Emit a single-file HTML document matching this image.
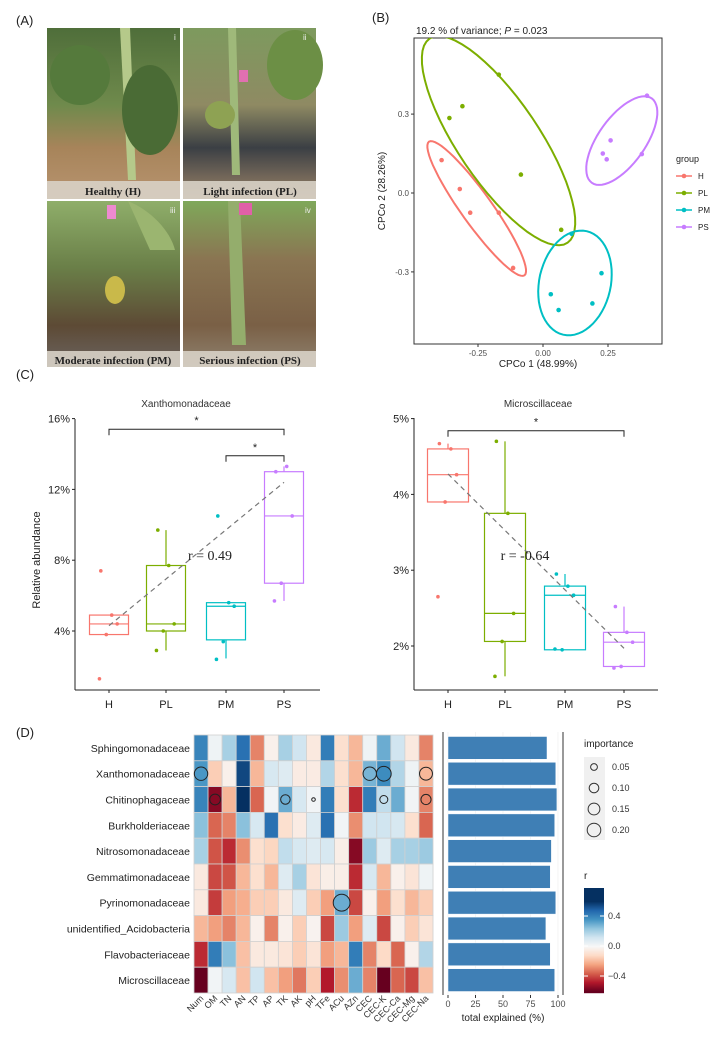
<!DOCTYPE html>
<html><head><meta charset="utf-8">
<style>
html,body{margin:0;padding:0;background:#fff;}
svg{display:block;font-family:"Liberation Sans",Arial,sans-serif;}
</style></head>
<body>
<svg id="fig" width="715" height="1037" viewBox="0 0 715 1037" xmlns="http://www.w3.org/2000/svg">
<defs>
<linearGradient id="g1" x1="0" y1="0" x2="0" y2="1"><stop offset="0" stop-color="#4f6e3a"/><stop offset="0.45" stop-color="#6f8a4c"/><stop offset="0.7" stop-color="#a7845a"/><stop offset="1" stop-color="#b89470"/></linearGradient>
<linearGradient id="g2" x1="0" y1="0" x2="0" y2="1"><stop offset="0" stop-color="#7d9a5e"/><stop offset="0.45" stop-color="#8f8a63"/><stop offset="0.7" stop-color="#3b3f44"/><stop offset="1" stop-color="#9c8468"/></linearGradient>
<linearGradient id="g3" x1="0" y1="0" x2="0" y2="1"><stop offset="0" stop-color="#8fae6a"/><stop offset="0.4" stop-color="#6a7f48"/><stop offset="0.75" stop-color="#5d4a35"/><stop offset="1" stop-color="#6b6460"/></linearGradient>
<linearGradient id="g4" x1="0" y1="0" x2="0" y2="1"><stop offset="0" stop-color="#7fa85a"/><stop offset="0.35" stop-color="#8a7552"/><stop offset="0.75" stop-color="#7a6046"/><stop offset="1" stop-color="#8f8270"/></linearGradient>
<clipPath id="clipB"><rect x="414" y="38" width="248" height="306"/></clipPath>
</defs>

<!-- Panel A -->
<g>
<text x="16" y="25" font-size="13" fill="#222">(A)</text>
<g>
<rect x="47" y="28" width="133" height="171" fill="url(#g1)"/>
<path d="M120 28 L128 180 L136 180 L130 28Z" fill="#b5c98a"/>
<ellipse cx="80" cy="75" rx="30" ry="30" fill="#557a3c"/>
<ellipse cx="150" cy="110" rx="28" ry="45" fill="#4a6b35"/>
<rect x="47" y="181" width="133" height="18" fill="#d8d2c6" opacity="0.9"/>
<text x="113" y="195" text-anchor="middle" font-family="Liberation Serif,serif" font-weight="bold" font-size="11" fill="#222">Healthy (H)</text>
<text x="174" y="40" font-size="8" fill="#eee">i</text>
</g>
<g>
<rect x="183" y="28" width="133" height="171" fill="url(#g2)"/>
<path d="M228 28 L232 175 L240 175 L236 28Z" fill="#9fb97a"/>
<ellipse cx="295" cy="65" rx="28" ry="35" fill="#6c8f45"/>
<ellipse cx="220" cy="115" rx="15" ry="14" fill="#8ea253"/>
<rect x="239" y="70" width="9" height="12" fill="#e070b0"/>
<rect x="183" y="181" width="133" height="18" fill="#d8d2c6" opacity="0.9"/>
<text x="250" y="195" text-anchor="middle" font-family="Liberation Serif,serif" font-weight="bold" font-size="11" fill="#222">Light infection (PL)</text>
<text x="303" y="40" font-size="8" fill="#eee">ii</text>
</g>
<g>
<rect x="47" y="201" width="133" height="166" fill="url(#g3)"/>
<path d="M128 201 C150 210 170 230 175 250 L150 250 Z" fill="#9bb570"/>
<rect x="107" y="205" width="9" height="14" fill="#ee8ad0"/>
<ellipse cx="115" cy="290" rx="10" ry="14" fill="#c9b94a"/>
<rect x="47" y="351" width="133" height="16" fill="#d8d2c6" opacity="0.9"/>
<text x="113" y="364" text-anchor="middle" font-family="Liberation Serif,serif" font-weight="bold" font-size="11" fill="#222">Moderate infection (PM)</text>
<text x="170" y="213" font-size="8" fill="#eee">iii</text>
</g>
<g>
<rect x="183" y="201" width="133" height="166" fill="url(#g4)"/>
<path d="M228 201 L232 345 L246 345 L240 201Z" fill="#94ad6c"/>
<rect x="239" y="203" width="13" height="12" fill="#e060a8"/>
<rect x="183" y="351" width="133" height="16" fill="#d8d2c6" opacity="0.9"/>
<text x="250" y="364" text-anchor="middle" font-family="Liberation Serif,serif" font-weight="bold" font-size="11" fill="#222">Serious infection (PS)</text>
<text x="305" y="213" font-size="8" fill="#eee">iv</text>
</g>
</g>

<text x="372" y="22" font-size="13" fill="#222">(B)</text>
<g id="pb"></g>
<text x="16" y="379" font-size="13" fill="#222">(C)</text>
<g id="pc1"></g>
<g id="pc2"></g>
<text x="16" y="737" font-size="13" fill="#222">(D)</text>
<g id="pd"></g>
</svg>

<script>
const NS="http://www.w3.org/2000/svg";
function mk(parent,tag,attrs,text){const e=document.createElementNS(NS,tag);for(const k in attrs)e.setAttribute(k,attrs[k]);if(text!==undefined)e.textContent=text;parent.appendChild(e);return e;}

/* ---------- Panel B data ---------- */
const groups=["H","PL","PM","PS"];
const groupColors=["#F8766D","#7CAE00","#00BFC4","#C77CFF"];
const pcoaX=[[-0.39,-0.32,-0.28,-0.17,-0.115],[-0.36,-0.31,-0.17,-0.085,0.07],[0.11,0.225,0.03,0.06,0.19],[0.40,0.26,0.23,0.245,0.38]];
const pcoaY=[[0.125,0.015,-0.075,-0.075,-0.285],[0.285,0.33,0.45,0.07,-0.14],[-0.155,-0.305,-0.385,-0.445,-0.42],[0.37,0.20,0.15,0.128,0.148]];
const pcoaXTicks=[-0.25,0,0.25];const pcoaXTickLabels=["-0.25","0.00","0.25"];
const pcoaYTicks=[0.3,0,-0.3];const pcoaYTickLabels=["0.3","0.0","-0.3"];

/* ---------- Panel C data ---------- */
const cats=["H","PL","PM","PS"];
const xanMin=[3.8,2.9,2.45,5.7],xanQ1=[3.8,4.0,3.5,6.7],xanMed=[4.4,4.4,5.4,10.5],xanQ3=[4.9,7.7,5.6,13.0],xanMax=[4.9,9.7,5.6,13.3];
const xanPts=[[7.4,4.9,4.4,3.8,1.3],[9.7,7.7,4.4,4.0,2.9],[10.5,5.6,5.4,3.4,2.4],[13.0,13.3,10.5,6.7,5.7]];
const xanTrend=[4.3,12.4];
const xanTicks=[4,8,12,16];const xanTickLabels=["4%","8%","12%","16%"];
const micMin=[3.9,1.6,1.95,1.73],micQ1=[3.9,2.06,1.95,1.73],micMed=[4.26,2.43,2.67,2.05],micQ3=[4.6,3.75,2.79,2.18],micMax=[4.67,4.7,2.95,2.52];
const micPts=[[4.67,4.6,4.26,3.9,2.65],[4.7,3.75,2.43,2.06,1.6],[2.95,2.79,2.67,1.95,1.96],[2.52,2.18,2.05,1.73,1.71]];
const micTrend=[4.27,1.97];
const micTicks=[2,3,4,5];const micTickLabels=["2%","3%","4%","5%"];

/* ---------- Panel D data ---------- */
const taxa=["Sphingomonadaceae","Xanthomonadaceae","Chitinophagaceae","Burkholderiaceae","Nitrosomonadaceae","Gemmatimonadaceae","Pyrinomonadaceae","unidentified_Acidobacteria","Flavobacteriaceae","Microscillaceae"];
const factors=["Num","OM","TN","AN","TP","AP","TK","AK","pH","TFe","ACu","AZn","CEC","CEC-K","CEC-Ca","CEC-Mg","CEC-Na"];
const corrR=[
[0.4,0.03,0.2,0.45,-0.3,-0.03,0.2,0.12,-0.06,0.42,-0.1,-0.2,0.03,0.3,0.12,-0.06,-0.3],
[0.35,-0.15,-0.03,0.55,-0.2,0.1,0.08,-0.05,-0.05,0.18,-0.1,-0.2,0.28,0.38,0.18,0.03,-0.2],
[0.4,-0.55,-0.2,0.6,-0.35,0.02,0.3,0.1,0.02,0.42,-0.1,-0.45,0.42,0.15,0.3,0.02,-0.3],
[0.25,-0.35,-0.3,0.25,0.1,0.45,-0.1,-0.05,0.08,0.45,0.02,-0.28,0.12,0.12,0.1,-0.1,-0.35],
[0.2,-0.38,-0.45,-0.28,-0.1,-0.13,0.15,0.1,0.08,0.1,-0.04,-0.55,0.22,0.08,0.2,0.2,0.22],
[-0.06,-0.4,-0.38,-0.2,-0.1,-0.2,0.08,0.2,-0.08,-0.04,-0.04,-0.45,0.1,-0.2,-0.03,-0.08,0.03],
[-0.06,-0.42,-0.25,-0.22,-0.15,-0.15,-0.06,0.08,-0.15,-0.25,0.3,-0.4,-0.03,-0.25,-0.1,-0.2,-0.15],
[-0.2,-0.25,-0.3,-0.2,-0.03,-0.3,-0.03,-0.15,-0.02,-0.4,0.22,-0.25,0.08,-0.4,-0.03,-0.15,-0.08],
[-0.45,0.42,0.25,-0.18,-0.06,-0.06,-0.08,-0.15,-0.08,-0.25,-0.2,0.42,-0.3,-0.12,-0.35,-0.03,0.18],
[-0.62,0.02,0.1,-0.18,0.12,-0.18,-0.25,-0.32,-0.15,-0.48,-0.28,0.3,-0.3,-0.62,-0.35,-0.4,-0.18]];
const impRow=[1,1,1,1,2,2,2,2,2,6];
const impCol=[0,12,13,16,1,6,8,13,16,10];
const impVal=[0.14,0.14,0.17,0.13,0.09,0.07,0.01,0.05,0.08,0.22];
const explained=[90,98,99,97,94,93,98,89,93,97];
const explTicks=[0,25,50,75,100];
const impLegendVals=[0.05,0.10,0.15,0.20];
const rLegendTicks=[0.4,0,-0.4];const rLegendLabels=["0.4","0.0","\u22120.4"];

/* ---------- Panel B ---------- */
(function(){
const g=document.getElementById("pb");
const L=414,R=662,T=38,B=344;
const sx=v=>543+v*260, sy=v=>193-v*263;
mk(g,"text",{x:416,y:34,"font-size":"10",fill:"#222"}).innerHTML='19.2 % of variance; <tspan font-style="italic">P</tspan> = 0.023';
const box=mk(g,"rect",{x:L,y:T,width:R-L,height:B-T,fill:"#fff",stroke:"#333","stroke-width":"1"});

pcoaYTicks.forEach((t,i)=>{mk(g,"line",{x1:L-3,x2:L,y1:sy(t),y2:sy(t),stroke:"#333"});
 const tx=mk(g,"text",{x:L-5,y:sy(t)+3,"text-anchor":"end","font-size":"8",fill:"#4d4d4d"},pcoaYTickLabels[i]);
 });
pcoaXTicks.forEach((t,i)=>{mk(g,"line",{x1:sx(t),x2:sx(t),y1:B,y2:B+3,stroke:"#333"});
 const tx=mk(g,"text",{x:sx(t),y:B+12,"text-anchor":"middle","font-size":"8",fill:"#4d4d4d"},pcoaXTickLabels[i]);
 });
const xl=mk(g,"text",{x:538,y:367,"text-anchor":"middle","font-size":"10",fill:"#222"},"CPCo 1 (48.99%)");

const yl=mk(g,"text",{x:0,y:0,"text-anchor":"middle","font-size":"10",fill:"#222",transform:"translate(385,191) rotate(-90)"},"CPCo 2 (28.26%)");

const clipG=mk(g,"g",{"clip-path":"url(#clipB)"});
groups.forEach((gr,k)=>{
 const xs=pcoaX[k],ys=pcoaY[k],n=xs.length;
 const mx=xs.reduce((a,b)=>a+b)/n,my=ys.reduce((a,b)=>a+b)/n;
 let cxx=0,cyy=0,cxy=0;for(let i=0;i<n;i++){cxx+=(xs[i]-mx)**2;cyy+=(ys[i]-my)**2;cxy+=(xs[i]-mx)*(ys[i]-my);}
 cxx/=n-1;cyy/=n-1;cxy/=n-1;
 const tr=cxx+cyy,det=cxx*cyy-cxy*cxy,d=Math.sqrt(Math.max(tr*tr/4-det,0));
 const l1=tr/2+d,l2=Math.max(tr/2-d,1e-6);
 const ang=Math.atan2(l1-cxx,cxy||1e-9);
 const s=1.7;let p="";
 for(let i=0;i<=60;i++){const t=i/60*2*Math.PI;const a=s*Math.sqrt(l1)*Math.cos(t),b=s*Math.sqrt(l2)*Math.sin(t);
  const X=mx+a*Math.cos(ang)-b*Math.sin(ang),Y=my+a*Math.sin(ang)+b*Math.cos(ang);p+=(i?"L":"M")+sx(X).toFixed(1)+" "+sy(Y).toFixed(1);}
 const el=mk(clipG,"path",{d:p+"Z",fill:"none",stroke:groupColors[k],"stroke-width":"2"});
 
 xs.forEach((x,i)=>{const c=mk(g,"circle",{cx:sx(x),cy:sy(ys[i]),r:2.3,fill:groupColors[k]});
  });
 const ly=176+k*17;
 const lg=mk(g,"g",{});
 mk(lg,"line",{x1:676,x2:692,y1:ly,y2:ly,stroke:groupColors[k],"stroke-width":"1.5"});
 mk(lg,"circle",{cx:684,cy:ly,r:2.3,fill:groupColors[k]});
 mk(lg,"text",{x:698,y:ly+3,"font-size":"8",fill:"#222"},gr);
});
const lt=mk(g,"text",{x:676,y:162,"font-size":"9",fill:"#222"},"group");

})();

/* ---------- Panel C ---------- */
function boxplot(gid,o){
 const g=document.getElementById(gid);
 const sy=v=>o.y0-(v-o.v0)*o.k;
 mk(g,"text",{x:o.tx,y:407,"text-anchor":"middle","font-size":"10",fill:"#333"},o.title);
 mk(g,"line",{x1:o.L,x2:o.L,y1:o.T,y2:690,stroke:"#222"});
 mk(g,"line",{x1:o.L,x2:o.R,y1:690,y2:690,stroke:"#222"});
 o.ticks.forEach((t,i)=>{mk(g,"line",{x1:o.L-3,x2:o.L,y1:sy(t),y2:sy(t),stroke:"#222"});
  const tx=mk(g,"text",{x:o.L-5,y:sy(t)+4,"text-anchor":"end","font-size":"11",fill:"#222"},o.tickLabels[i]);
  });
 cats.forEach((c,i)=>{const x=o.xs[i],w=o.w,col=groupColors[i];
  mk(g,"line",{x1:x,x2:x,y1:690,y2:693,stroke:"#222"});
  const tl=mk(g,"text",{x:x,y:708,"text-anchor":"middle","font-size":"11",fill:"#222"},c);
  
  const bg=mk(g,"g",{});
  mk(bg,"line",{x1:x,x2:x,y1:sy(o.max[i]),y2:sy(o.q3[i]),stroke:col,"stroke-width":"1.2"});
  mk(bg,"line",{x1:x,x2:x,y1:sy(o.q1[i]),y2:sy(o.min[i]),stroke:col,"stroke-width":"1.2"});
  mk(bg,"rect",{x:x-w/2,y:sy(o.q3[i]),width:w,height:sy(o.q1[i])-sy(o.q3[i]),fill:"none",stroke:col,"stroke-width":"1.2"});
  mk(bg,"line",{x1:x-w/2,x2:x+w/2,y1:sy(o.med[i]),y2:sy(o.med[i]),stroke:col,"stroke-width":"1.2"});
  const jit=[-0.3,0.1,0.3,-0.1,-0.35];
  o.pts[i].forEach((v,j)=>{const p=mk(g,"circle",{cx:x+jit[j]*w*0.7,cy:sy(v),r:1.8,fill:col});
   });
 });
 const tl=mk(g,"line",{x1:o.xs[0],x2:o.xs[3],y1:sy(o.trend[0]),y2:sy(o.trend[1]),stroke:"#777","stroke-width":"1.2","stroke-dasharray":"5 4"});
 
 mk(g,"text",{x:o.rx,y:560,"text-anchor":"middle","font-family":"Liberation Serif,serif","font-size":"14",fill:"#222"},o.rtext);
 o.brackets.forEach(b=>{const x1=o.xs[b[0]],x2=o.xs[b[1]],y=sy(b[2]);
  const br=mk(g,"path",{d:`M${x1} ${y+6}V${y}H${x2}V${y+6}`,fill:"none",stroke:"#222","stroke-width":"1"});
  
  mk(g,"text",{x:(x1+x2)/2,y:y-5,"text-anchor":"middle","font-size":"11",fill:"#222"},"*");});
}
boxplot("pc1",{L:75,R:320,T:419,y0:631,v0:4,k:17.7,xs:[109,166,226,284],w:39,title:"Xanthomonadaceae",tx:186,
 ticks:xanTicks,tickLabels:xanTickLabels,min:xanMin,q1:xanQ1,med:xanMed,q3:xanQ3,max:xanMax,pts:xanPts,trend:xanTrend,
 rx:210,rtext:"r = 0.49",brackets:[[0,3,15.4],[2,3,13.9]]});
boxplot("pc2",{L:414,R:658,T:418,y0:646,v0:2,k:75.8,xs:[448,505,565,624],w:41,title:"Microscillaceae",tx:538,
 ticks:micTicks,tickLabels:micTickLabels,min:micMin,q1:micQ1,med:micMed,q3:micQ3,max:micMax,pts:micPts,trend:micTrend,
 rx:525,rtext:"r = -0.64",brackets:[[0,3,4.84]]});
(function(){const t=mk(document.getElementById("pc1"),"text",{x:0,y:0,"text-anchor":"middle","font-size":"11",fill:"#222",transform:"translate(40,560) rotate(-90)"},"Relative abundance");
})();

/* ---------- Panel D ---------- */
const rdbu=["#67001f","#b2182b","#d6604d","#f4a582","#fddbc7","#f7f7f7","#d1e5f0","#92c5de","#4393c3","#2166ac","#053061"];
function hex(c){return[1,3,5].map(i=>parseInt(c.substr(i,2),16));}
function rcol(r){let t=(r+0.6)/1.2;t=Math.max(0,Math.min(1,t))*10;const i=Math.min(9,Math.floor(t)),f=t-i;
 const a=hex(rdbu[i]),b=hex(rdbu[i+1]);return "rgb("+a.map((v,k)=>Math.round(v+(b[k]-v)*f)).join(",")+")";}
(function(){
const g=document.getElementById("pd");
const X0=194,CW=14.06,Y0=735,RH=25.8;
const cx=j=>X0+j*CW, cy=i=>Y0+i*RH;
taxa.forEach((t,i)=>{const l=mk(g,"text",{x:190,y:cy(i)+RH/2+4,"text-anchor":"end","font-size":"10.5",fill:"#222"},t);
 
 factors.forEach((f,j)=>{const c=mk(g,"rect",{x:cx(j),y:cy(i),width:CW,height:RH,fill:rcol(corrR[i][j]),stroke:"#d0d0d0","stroke-width":"0.8"});
  });});
factors.forEach((f,j)=>{const l=mk(g,"text",{x:0,y:0,"text-anchor":"end","font-size":"9",fill:"#333",transform:`translate(${cx(j)+CW/2+3},${Y0+10*RH+6}) rotate(-45)`},f);
 });
const rad=v=>17.9*Math.sqrt(v);
impVal.forEach((v,k)=>{const c=mk(g,"circle",{cx:cx(impCol[k])+CW/2,cy:cy(impRow[k])+RH/2,r:rad(v),fill:rcol(corrR[impRow[k]][impCol[k]]),stroke:"#222","stroke-width":"1"});
 });
const BX0=448,BK=1.1;
mk(g,"line",{x1:443,x2:443,y1:732,y2:995,stroke:"#333"});
mk(g,"line",{x1:563,x2:563,y1:732,y2:995,stroke:"#333"});
explTicks.forEach(t=>{mk(g,"line",{x1:BX0+t*BK,x2:BX0+t*BK,y1:732,y2:995,stroke:"#ececec","stroke-width":"0.6"});
 mk(g,"line",{x1:BX0+t*BK,x2:BX0+t*BK,y1:995,y2:998,stroke:"#333"});
 const tl=mk(g,"text",{x:BX0+t*BK,y:1007,"text-anchor":"middle","font-size":"9",fill:"#4d4d4d"},String(t));
 });
explained.forEach((v,i)=>{const b=mk(g,"rect",{x:BX0,y:cy(i)+1.5,width:v*BK,height:RH-3,fill:"#3f7fb5",stroke:"#fff","stroke-width":"0.5"});
 });
const xt=mk(g,"text",{x:503,y:1021,"text-anchor":"middle","font-size":"10",fill:"#222"},"total explained (%)");

mk(g,"text",{x:584,y:747,"font-size":"10",fill:"#222"},"importance");
mk(g,"rect",{x:584,y:757,width:21,height:83,fill:"#f0f0f0"});
impLegendVals.forEach((v,k)=>{const y=767+k*21;
 const e=mk(g,"g",{});
 mk(e,"circle",{cx:594,cy:y,r:rad(v)*0.85,fill:"none",stroke:"#333","stroke-width":"1"});
 mk(e,"text",{x:612,y:y+3,"font-size":"9",fill:"#333"},v.toFixed(2));});
mk(g,"text",{x:584,y:879,"font-size":"10",fill:"#222"},"r");
const CT=888,CB=993,cyv=r=>946-r*75;
for(let y=CT;y<CB;y+=1){mk(g,"rect",{x:584,y:y,width:20,height:1.2,fill:rcol((946-y)/75)});}
rLegendTicks.forEach((t,k)=>{mk(g,"line",{x1:584,x2:588,y1:cyv(t),y2:cyv(t),stroke:"#fff"});mk(g,"line",{x1:600,x2:604,y1:cyv(t),y2:cyv(t),stroke:"#fff"});
 const tl=mk(g,"text",{x:608,y:cyv(t)+3,"font-size":"9",fill:"#333"},rLegendLabels[k]);
 });
})();
</script>
</body></html>
